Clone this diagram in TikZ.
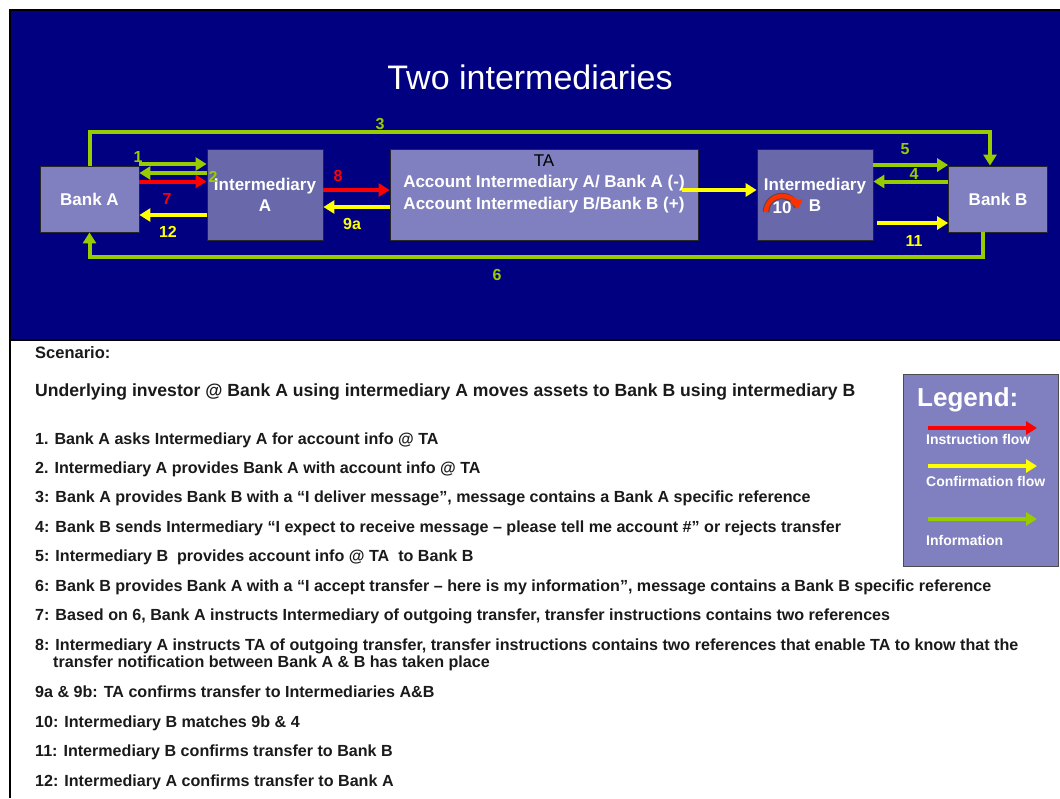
\documentclass[tikz,border=0pt]{standalone}
\usepackage{fontspec}
\setmainfont{Liberation Sans}
\usetikzlibrary{arrows.meta}

\definecolor{slide}{RGB}{0,0,128}
\definecolor{boxlight}{RGB}{128,128,192}
\definecolor{boxdark}{RGB}{104,104,170}
\definecolor{infogreen}{RGB}{153,204,0}
\definecolor{instrred}{RGB}{255,0,0}
\definecolor{confyellow}{RGB}{255,255,0}
\definecolor{loopred}{RGB}{255,48,0}
\definecolor{textdark}{RGB}{26,26,26}

\tikzset{
  boxbase/.style={draw=black!85, line width=0.8pt, inner sep=0pt, text=white,
    align=center, font=\fontsize{17}{21}\selectfont\bfseries},
  bankbox/.style={boxbase, fill=boxlight, minimum width=99pt, minimum height=66pt},
  interbox/.style={boxbase, fill=boxdark, minimum width=116pt, minimum height=91pt},
  tabox/.style={boxbase, fill=boxlight, minimum width=308pt, minimum height=91pt},
  flow/.style={line width=4pt, -{Triangle[length=11pt,width=13pt]}},
  infoflow/.style={flow, draw=infogreen},
  instrflow/.style={flow, draw=instrred},
  confflow/.style={flow, draw=confyellow},
  numlbl/.style={inner sep=0pt, font=\fontsize{16}{16}\selectfont\bfseries},
  listline/.style={anchor=base west, inner sep=0pt, text=textdark,
    font=\fontsize{16.1}{18}\selectfont\bfseries},
  legendtxt/.style={anchor=base west, inner sep=0pt, text=white,
    font=\fontsize{14}{14}\selectfont\bfseries},
}

\begin{document}
\begin{tikzpicture}[x=1pt, y=-1pt]
\useasboundingbox (0,0) rectangle (1060,798);
\fill[white] (0,0) rectangle (1060,798);

% slide header band
\fill[slide] (10,10) rectangle (1060,340);
\draw[black, line width=1.6pt] (10,798) -- (10,10) -- (1060,10);
\draw[black, line width=1.2pt] (10,340) -- (1060,340);

\node[text=white, font=\fontsize{34}{34}\selectfont] (title) at (530,77) {Two intermediaries};

% parties
\node[bankbox]  (bankA) at (89.5,199)  {Bank A};
\node[interbox] (intA)  at (265,194.5) {Intermediary\\A};
\node[tabox]    (ta)    at (544,194.5) {};
\node[interbox] (intB)  at (815,194.5) {Intermediary\\B};
\node[bankbox]  (bankB) at (998,199)   {Bank B};

\node[align=center, inner sep=0pt, font=\fontsize{17}{21.5}\selectfont] (talbl) at (544,183.5)
  {TA\\\textcolor{white}{\bfseries Account Intermediary A/ Bank A (-)}\\
   \textcolor{white}{\bfseries Account Intermediary B/Bank B (+)}};

% row levels of the arrows
\coordinate (r1)  at (0,164);
\coordinate (r2)  at (0,173);
\coordinate (r7)  at (0,181.5);
\coordinate (r12) at (0,215);
\coordinate (r8)  at (0,190);
\coordinate (r9a) at (0,207);
\coordinate (s9b) at (682,190);
\coordinate (r5)  at (0,165);
\coordinate (r4)  at (0,181.5);
\coordinate (s11) at (877,223);
\coordinate (c3)  at (990,132);
\coordinate (c6)  at (983,257);

% information flows
\draw[infoflow] (bankA.north) |- (c3) -- (c3 |- bankB.north);
\draw[infoflow] (c6 |- bankB.south) -- (c6) -| (bankA.south);
\draw[infoflow] (bankA.east |- r1) -- (intA.west |- r1);
\draw[infoflow] (intA.west |- r2) -- (bankA.east |- r2);
\draw[infoflow] (intB.east |- r5) -- (bankB.west |- r5);
\draw[infoflow] (bankB.west |- r4) -- (intB.east |- r4);

% instruction flows
\draw[instrflow] (bankA.east |- r7) -- (intA.west |- r7);
\draw[instrflow] (intA.east |- r8) -- (ta.west |- r8);

% confirmation flows
\draw[confflow] (intA.west |- r12) -- (bankA.east |- r12);
\draw[confflow] (ta.west |- r9a) -- (intA.east |- r9a);
\draw[confflow] (s9b) -- (intB.west |- s9b);
\draw[confflow] (s11) -- (bankB.west |- s11);

% matching loop inside intermediary B
\draw[line width=6.5pt, black!70] (766,212) arc[start angle=180, end angle=340, radius=16];
\draw[line width=4.5pt, loopred, -{Triangle[length=9pt,width=13pt]}]
  (766,212) arc[start angle=180, end angle=350, radius=16];

% step numbers
\node[numlbl, text=infogreen]  (n3)  at (380,124) {3};
\node[numlbl, text=infogreen]  (n1)  at (138,157) {1};
\node[numlbl, text=infogreen]  (n2)  at (213,177) {2};
\node[numlbl, text=instrred]   (n7)  at (167,199) {7};
\node[numlbl, text=confyellow] (n12) at (168,232) {12};
\node[numlbl, text=instrred]   (n8)  at (338,176) {8};
\node[numlbl, text=confyellow] (n9a) at (352,224) {9a};
\node[numlbl, text=infogreen]  (n5)  at (905,149) {5};
\node[numlbl, text=infogreen]  (n4)  at (914,174) {4};
\node[numlbl, text=confyellow] (n11) at (914,241) {11};
\node[numlbl, text=infogreen]  (n6)  at (497,275) {6};
\node[numlbl, text=white, font=\fontsize{17}{17}\selectfont\bfseries] (n10) at (782,208) {10};

% legend
\node[draw=black!70, line width=0.8pt, fill=boxlight, minimum width=155pt,
  minimum height=192pt, inner sep=0pt] (legend) at (980.5,470) {};
\node[anchor=base west, inner sep=0pt, text=white, font=\fontsize{26}{26}\selectfont\bfseries]
  (legtitle) at (917,406) {Legend:};
\coordinate (la1) at (928,428);  \coordinate (lb1) at (1037,428);
\coordinate (la2) at (928,466);  \coordinate (lb2) at (1037,466);
\coordinate (la3) at (928,519);  \coordinate (lb3) at (1037,519);
\draw[instrflow, line width=4pt] (la1) -- (lb1);
\draw[confflow, line width=4pt] (la2) -- (lb2);
\draw[infoflow, line width=4pt] (la3) -- (lb3);
\node[legendtxt] (leg1) at (926,444) {Instruction flow};
\node[legendtxt] (leg2) at (926,486) {Confirmation flow};
\node[legendtxt] (leg3) at (926,545) {Information};

% scenario text
\node[listline, font=\fontsize{16.5}{18}\selectfont\bfseries] (scen) at (35,358) {Scenario:};
\node[listline, font=\fontsize{17.6}{18}\selectfont\bfseries] (under) at (35,396)
  {Underlying investor @ Bank A using intermediary A moves assets to Bank B using intermediary B};
\node[listline] (s1)  at (35,444.5) {1. Bank A asks Intermediary A for account info @ TA};
\node[listline] (s2)  at (35,473)   {2. Intermediary A provides Bank A with account info @ TA};
\node[listline] (s3)  at (35,502.5) {3: Bank A provides Bank B with a “I deliver message”, message contains a Bank A specific reference};
\node[listline] (s4)  at (35,532)   {4: Bank B sends Intermediary “I expect to receive message – please tell me account \#” or rejects transfer};
\node[listline] (s5)  at (35,561.5) {5: Intermediary B\ \ provides account info @ TA\ \ to Bank B};
\node[listline] (s6)  at (35,591)   {6: Bank B provides Bank A with a “I accept transfer – here is my information”, message contains a Bank B specific reference};
\node[listline] (s7)  at (35,620.5) {7: Based on 6, Bank A instructs Intermediary of outgoing transfer, transfer instructions contains two references};
\node[listline] (s8)  at (35,650)   {8: Intermediary A instructs TA of outgoing transfer, transfer instructions contains two references that enable TA to know that the};
\node[listline] (s8b) at (53,667.5) {transfer notification between Bank A \& B has taken place};
\node[listline] (s9)  at (35,697.5) {9a \& 9b: TA confirms transfer to Intermediaries A\&B};
\node[listline] (s10) at (35,727)   {10: Intermediary B matches 9b \& 4};
\node[listline] (s11) at (35,756.5) {11: Intermediary B confirms transfer to Bank B};
\node[listline] (s12) at (35,786)   {12: Intermediary A confirms transfer to Bank A};
\end{tikzpicture}
\end{document}
